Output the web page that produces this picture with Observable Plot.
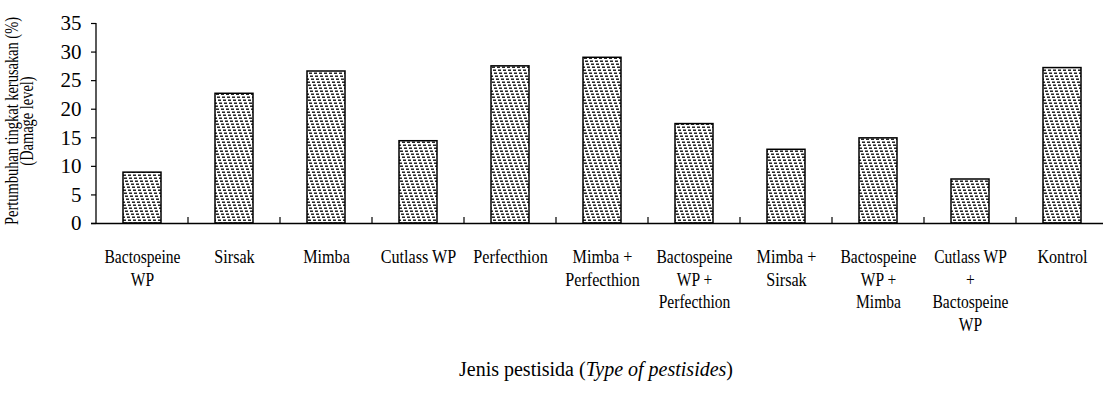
<!DOCTYPE html>
<html>
<head>
<meta charset="utf-8">
<script src="https://cdn.jsdelivr.net/npm/d3@7"></script>
<script src="https://cdn.jsdelivr.net/npm/@observablehq/plot@0.6"></script>
<style>
  html, body { margin: 0; padding: 0; background: #fff; overflow: hidden; }
  svg { display: block; }
  #chart svg, #chart svg text, #chart svg tspan { font-family: "Liberation Serif", "Times New Roman", "DejaVu Serif", serif !important; }
</style>
</head>
<body>
<div id="chart"></div>
<script>
// ---- data ----
const categories = [
  "Bactospeine\nWP",
  "Sirsak",
  "Mimba",
  "Cutlass WP",
  "Perfecthion",
  "Mimba +\nPerfecthion",
  "Bactospeine\nWP +\nPerfecthion",
  "Mimba +\nSirsak",
  "Bactospeine\nWP +\nMimba",
  "Cutlass WP\n+\nBactospeine\nWP",
  "Kontrol"
];
const damage = [8.9, 22.7, 26.6, 14.4, 27.5, 29.0, 17.4, 12.9, 14.9, 7.7, 27.2];
const yTicks = [0, 5, 10, 15, 20, 25, 30, 35];
const yLabelLines = ["Pertumbuhan tingkat kerusakan (%)", "(Damage level)"];
const xTitle = "Jenis pestisida (";
const xTitleItalic = "Type of pestisides";
const xTitleEnd = ")";

const rows = categories.map((c, i) => ({cat: c, val: damage[i]}));

const W = 1103, H = 401;
const plot = Plot.plot({
  width: W,
  height: H,
  marginLeft: 91,
  marginRight: -9,
  marginTop: 23,
  marginBottom: 178,
  style: {fontFamily: "Liberation Serif, serif", fontSize: "20px", color: "#000", background: "#fff"},
  x: {type: "band", domain: categories, range: [91, 1112], paddingInner: 0.59, paddingOuter: 0.295, label: null},
  y: {domain: [0, 35], range: [223, 23], label: null},
  marks: [
    Plot.barY(rows, {x: "cat", y: "val", fill: "url(#hatch)", stroke: "#000", strokeWidth: 1.5}),
    Plot.ruleY([0], {stroke: "#000", strokeWidth: 1.3}),
    Plot.axisY({ticks: yTicks, tickSize: -5, tickPadding: 15, fontSize: 21, label: null, strokeWidth: 1.2}),
    Plot.axisX({tickSize: 0, tickPadding: 24, fontSize: 19, lineHeight: 1.18, label: null})
  ]
});
document.getElementById("chart").appendChild(plot);

const svg = d3.select(plot);
svg.insert("defs", ":first-child").html(`
  <pattern id="hatch" patternUnits="userSpaceOnUse" width="5" height="15">
    <rect width="5" height="15" fill="#fff"/>
    <rect x="0" y="0.5" width="3" height="1.4" fill="#111"/>
    <rect x="1" y="3.5" width="3" height="1.4" fill="#111"/>
    <rect x="2" y="6.5" width="3" height="1.4" fill="#111"/>
    <rect x="3" y="9.5" width="2" height="1.4" fill="#111"/>
    <rect x="0" y="9.5" width="1" height="1.4" fill="#111"/>
    <rect x="4" y="12.5" width="1" height="1.4" fill="#111"/>
    <rect x="0" y="12.5" width="2" height="1.4" fill="#111"/>
  </pattern>`);

const sx = plot.scale("x"), sy = plot.scale("y");
const y0 = sy.apply(0), yTop = sy.apply(35);
const gap = (sx.step - sx.bandwidth) / 2;
const xLeft = sx.apply(categories[0]) - gap;

// y axis line
svg.append("line").attr("x1", xLeft).attr("x2", xLeft).attr("y1", y0).attr("y2", yTop)
  .attr("stroke", "#000").attr("stroke-width", 1.3);
// x ticks between categories (inward)
categories.slice(1).forEach(c => {
  const xb = sx.apply(c) - gap;
  svg.append("line").attr("x1", xb).attr("x2", xb).attr("y1", y0).attr("y2", y0 - 6)
    .attr("stroke", "#000").attr("stroke-width", 1.2);
});

// compress category labels horizontally
svg.selectAll("g[aria-label='x-axis tick label'] text").each(function() {
  const bb = this.getBBox();
  const s = Math.min(0.85, 76 / bb.width);
  const t = this.getAttribute("transform") || "";
  this.setAttribute("transform", t + ` scale(${s},1)`);
});

// y axis title (two rotated lines, condensed along their length)
const yt = svg.append("text")
  .attr("transform", `translate(18,${(y0 + yTop) / 2 - 2}) rotate(-90) scale(0.76,1)`)
  .attr("text-anchor", "middle")
  .attr("font-size", 19)
  .attr("fill", "#000");
yLabelLines.forEach((l, i) => {
  yt.append("tspan").attr("x", 0).attr("dy", i === 0 ? 0 : 15).text(l);
});

// x axis title
const xt = svg.append("text")
  .attr("x", (xLeft + sx.range[1]) / 2 - 8)
  .attr("y", 376)
  .attr("text-anchor", "middle")
  .attr("font-size", 20)
  .attr("fill", "#000");
xt.append("tspan").text(xTitle);
xt.append("tspan").attr("font-style", "italic").text(xTitleItalic);
xt.append("tspan").text(xTitleEnd);
</script>
</body>
</html>
